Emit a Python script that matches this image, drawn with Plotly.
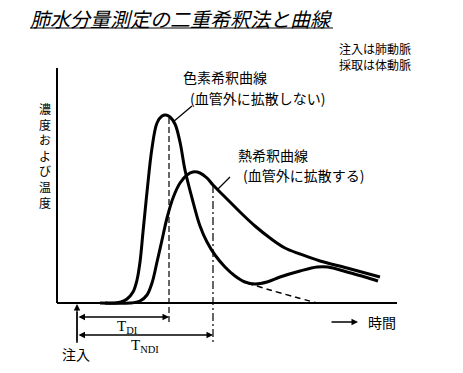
import plotly.graph_objects as go

# Schematic data (time units, signal units in picture space; y grows downward)
dye_x = [100, 115, 121, 127, 133, 137, 140, 143, 147, 152, 157, 162, 166, 170, 175, 180, 185, 192, 200, 207, 215, 225, 235, 245, 255, 267, 280, 300, 317, 328, 347, 365, 378]
dye_y = [303, 303, 302, 299, 292, 280, 262, 232, 192, 148, 123, 116, 115, 117, 124, 142, 170, 198, 226, 242, 255, 267, 276, 282, 284, 282, 277, 271, 267, 267, 272, 277, 281]

thermal_x = [105, 130, 140, 147, 152, 157, 162, 167, 173, 180, 187, 193, 200, 207, 213, 225, 240, 255, 270, 285, 300, 320, 347, 380]
thermal_y = [303, 303, 301, 295, 283, 262, 240, 218, 198, 183, 175, 172, 173, 178, 185, 197, 212, 226, 238, 248, 254, 261, 268, 277]

extrap_x = [247, 270, 295, 317]
extrap_y = [283, 290, 297, 303]

baseline_x = [57, 397]
baseline_y = [303, 303]
yaxis_x = [57, 57]
yaxis_y = [68, 303]

t_inject = 77
t_di = 169
t_ndi = 213

title_text = "肺水分量測定の二重希釈法と曲線"
note_lines = ["注入は肺動脈", "採取は体動脈"]
ylabel_chars = list("濃度および温度")
dye_label = ["色素希釈曲線", "(血管外に拡散しない)"]
thermal_label = ["熱希釈曲線", "(血管外に拡散する)"]

JP = "Noto Sans CJK JP"
fig = go.Figure()

def line(x, y, width=2, dash="solid", shape="linear"):
    fig.add_trace(go.Scatter(x=x, y=y, mode="lines", hoverinfo="skip",
                             line=dict(color="black", width=width, dash=dash, shape=shape, smoothing=1.0)))

# axes
line(yaxis_x, yaxis_y, 2)
line(baseline_x, baseline_y, 2)
# curves
line(dye_x, dye_y, 3, shape="spline")
line(thermal_x, thermal_y, 3, shape="spline")
line(extrap_x, extrap_y, 1.5, dash="6px,4px", shape="spline")
# vertical guide lines
line([t_di, t_di], [118, 322], 1.2, dash="6px,3px")
line([t_ndi, t_ndi], [185, 343], 1.2, dash="8px,3px,2px,3px")
line([t_inject, t_inject], [312, 343], 1.3)
# leaders
line([192, 173], [106, 122], 1.3)
line([230, 217], [177, 190], 1.3)

ann = []
def text(x, y, s, size=14, family=JP, xanchor="center", align="center"):
    ann.append(dict(x=x, y=y, xref="x", yref="y", text=s, showarrow=False, align=align,
                    font=dict(family=family, size=size, color="black"), xanchor=xanchor, yanchor="middle"))

def arrow(x0, y0, x1, y1, side="end", head=2, size=1.0):
    ann.append(dict(x=x1, y=y1, ax=x0, ay=y0, xref="x", yref="y", axref="x", ayref="y",
                    text="", showarrow=True, arrowhead=head, arrowsize=size, arrowwidth=1.3,
                    arrowcolor="black", arrowside=side, startarrowhead=head, startarrowsize=size))

text(181, 18, "<i>" + title_text + "</i>", size=20)
line([30, 333], [28, 28], 1.2)
text(413, 56, "<br>".join(note_lines), size=12, xanchor="right", align="right")
text(45, 155, "<br>".join(ylabel_chars), size=12)
text(225, 77, dye_label[0], size=14)
text(257, 98, dye_label[1], size=14)
text(273, 155, thermal_label[0], size=14)
text(303, 175, thermal_label[1], size=14)

arrow(t_inject, 343, t_inject, 304)
arrow(t_inject, 317, t_di, 317, side="end+start")
arrow(t_inject, 335, t_ndi, 335, side="end+start")
arrow(330, 322, 358, 322)
text(382, 322, "時間", size=14)
text(76, 354, "注入", size=14)
text(127, 327, "T<sub>DI</sub>", size=15, family="Liberation Serif")
text(145, 346, "T<sub>NDI</sub>", size=15, family="Liberation Serif")

fig.update_layout(
    width=463, height=373, margin=dict(l=0, r=0, t=0, b=0),
    paper_bgcolor="white", plot_bgcolor="white", showlegend=False,
    hovermode=False, dragmode=False,
    xaxis=dict(range=[0, 463], visible=False, fixedrange=True),
    yaxis=dict(range=[373, 0], visible=False, fixedrange=True),
    annotations=ann,
)
fig.write_html("out.html", config={"displayModeBar": False, "staticPlot": True},
               post_script="document.body.style.margin='0';document.body.style.overflow='hidden';")
